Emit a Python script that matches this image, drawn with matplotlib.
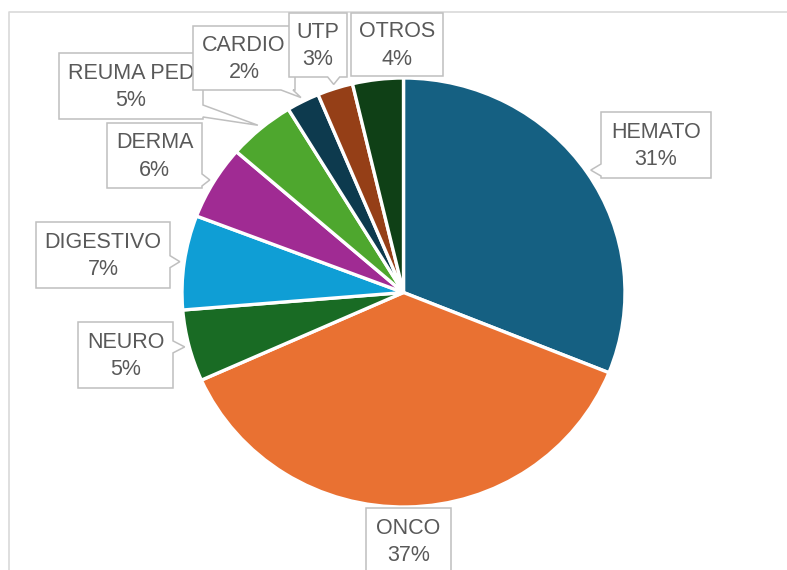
import numpy as np
import matplotlib.pyplot as plt
from matplotlib.patches import Polygon

categories = ['HEMATO', 'ONCO', 'NEURO', 'DIGESTIVO', 'DERMA', 'REUMA PED', 'CARDIO', 'UTP', 'OTROS']
shares = [31.1, 37.2, 5.4, 7.1, 5.6, 4.9, 2.4, 2.6, 3.7]
colors = ['#156082', '#E97132', '#196B24', '#0F9ED5', '#A02B93', '#4EA72E', '#0D3A4E', '#953F17', '#0F4016']

W, H = 787, 570
cx, cy, rx, ry = 403.5, 292.5, 221.5, 214.5  # pie centre / radii in pixels

# label boxes (left, top, right, bottom) in pixels, drawn in this order
boxes = {
    'HEMATO': (601, 112, 711, 178),
    'ONCO': (366, 508, 451, 574),
    'NEURO': (78, 322, 173, 388),
    'DIGESTIVO': (36, 222, 170, 288),
    'DERMA': (107, 123, 202, 188),
    'REUMA PED': (59, 53, 203, 119),
    'CARDIO': (193, 26, 295, 90),
    'UTP': (289, 13, 347, 77),
    'OTROS': (351, 13, 443, 76),
}


def callout(box, tip, hw=6):
    x0, y0, x1, y1 = box
    tx, ty = tip
    pts = [(x0, y0), (x1, y0), (x1, y1), (x0, y1)]
    ex = {'left': x0 - tx, 'right': tx - x1, 'top': y0 - ty, 'bottom': ty - y1}
    side = max(ex, key=ex.get)
    if ex[side] > 0:
        if side in ('left', 'right'):
            c = min(max(ty, y0 + hw + 2), y1 - hw - 2)
        else:
            c = min(max(tx, x0 + hw + 2), x1 - hw - 2)
        if side == 'top':
            pts = [(x0, y0), (c - hw, y0), (tx, ty), (c + hw, y0), (x1, y0), (x1, y1), (x0, y1)]
        elif side == 'right':
            pts = [(x0, y0), (x1, y0), (x1, c - hw), (tx, ty), (x1, c + hw), (x1, y1), (x0, y1)]
        elif side == 'bottom':
            pts = [(x0, y0), (x1, y0), (x1, y1), (c + hw, y1), (tx, ty), (c - hw, y1), (x0, y1)]
        else:
            pts = [(x0, y0), (x1, y0), (x1, y1), (x0, y1), (x0, c + hw), (tx, ty), (x0, c - hw)]
    return Polygon(pts, closed=True, facecolor='white', edgecolor='#BFBFBF', linewidth=1.1)


fig = plt.figure(figsize=(W / 100, H / 100), dpi=100, facecolor='white')

# pie axes (slightly wider than tall, like the reference)
ax = fig.add_axes([(cx - rx) / W, (H - cy - ry) / H, 2 * rx / W, 2 * ry / H])
wedges, _ = ax.pie(shares, colors=colors, startangle=90, counterclock=False,
                   wedgeprops=dict(edgecolor='white', linewidth=2.4))
ax.set_aspect('auto')
ax.set_xlim(-1, 1)
ax.set_ylim(-1, 1)
for w in wedges:
    w.set_clip_on(False)

# overlay in pixel coords for frame and labels
ov = fig.add_axes([0, 0, 1, 1], zorder=2)
ov.set_xlim(0, W)
ov.set_ylim(H, 0)
ov.axis('off')
ov.plot([9, 9, W], [H, 11.5, 11.5], color='#D9D9D9', linewidth=1.2)

for i, (cat, share, w) in enumerate(zip(categories, shares, wedges)):
    mid = np.deg2rad((w.theta1 + w.theta2) / 2)
    tip = (cx + 1.02 * rx * np.cos(mid), cy - 1.02 * ry * np.sin(mid))
    box = boxes[cat]
    p = callout(box, tip)
    p.set_zorder(3 + 2 * i)
    ov.add_patch(p)
    ov.text((box[0] + box[2]) / 2, (box[1] + box[3]) / 2 + 1, f'{cat}\n{round(share)}%',
            ha='center', va='center', fontsize=15.5, color='#595959',
            family='Liberation Sans', linespacing=1.4, zorder=4 + 2 * i)

fig.savefig('out.png', dpi=100)
